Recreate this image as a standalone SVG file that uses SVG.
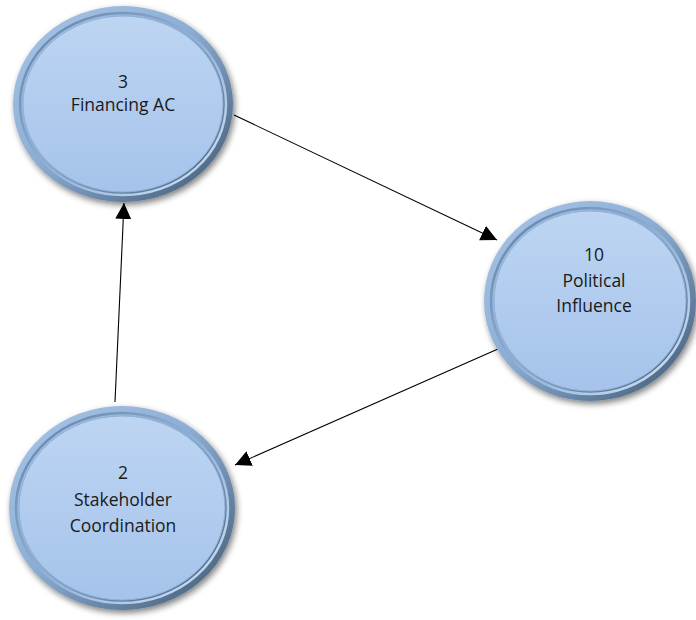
<svg xmlns="http://www.w3.org/2000/svg" width="696" height="620" viewBox="0 0 696 620">
  <defs>
    <style>
      .label { font-family: "Open Sans", "Liberation Sans", sans-serif; font-size: 17.5px; fill: #1a1a1a; text-anchor: middle; }
      .rim { fill: url(#rimGrad); filter: url(#shadow); }
      .rimInner { fill: none; stroke: url(#rimInnerGrad); stroke-width: 2.5; }
      .face { fill: url(#faceGrad); stroke: #8fb0d6; stroke-width: 1; }
      .edge { stroke: #000; stroke-width: 1.1; marker-end: url(#arrow); }
    </style>
    <linearGradient id="rimGrad" x1="0" y1="0" x2="1" y2="1">
      <stop offset="0" stop-color="#a9c6e8"/>
      <stop offset="0.45" stop-color="#8daed4"/>
      <stop offset="1" stop-color="#3d5670"/>
    </linearGradient>
    <linearGradient id="rimInnerGrad" x1="0" y1="0" x2="1" y2="1">
      <stop offset="0" stop-color="#5f7fa6"/>
      <stop offset="0.6" stop-color="#9cbbe0"/>
      <stop offset="1" stop-color="#d6e6f8"/>
    </linearGradient>
    <linearGradient id="faceGrad" x1="0" y1="0" x2="0" y2="1">
      <stop offset="0" stop-color="#bdd5f2"/>
      <stop offset="1" stop-color="#a5c3eb"/>
    </linearGradient>
    <filter id="shadow" x="-20%" y="-20%" width="140%" height="140%">
      <feGaussianBlur in="SourceAlpha" stdDeviation="3"/>
      <feOffset dx="2" dy="3" result="b"/>
      <feComponentTransfer><feFuncA type="linear" slope="0.5"/></feComponentTransfer>
      <feMerge><feMergeNode/><feMergeNode in="SourceGraphic"/></feMerge>
    </filter>
    <marker id="arrow" viewBox="0 0 10 10" refX="10" refY="5" markerWidth="16" markerHeight="16" markerUnits="userSpaceOnUse" orient="auto">
      <path d="M0,0 L10,5 L0,10 z" fill="#000"/>
    </marker>
  </defs>

  <rect width="696" height="620" fill="#fff"/>

  <!-- connectors -->
  <g id="connectors">
    <line class="edge" x1="115" y1="402" x2="124" y2="203"/>
    <line class="edge" x1="234" y1="115" x2="497" y2="240"/>
    <line class="edge" x1="507" y1="345" x2="235" y2="465"/>
  </g>

  <!-- node 3: Financing AC -->
  <g id="node-financing">
    <ellipse class="rim" cx="123" cy="104" rx="110" ry="98"/>
    <ellipse class="rimInner" cx="123" cy="104" rx="103" ry="91"/>
    <ellipse class="face" cx="123" cy="104" rx="100" ry="88"/>
    <text class="label" x="123" y="88">3</text>
    <text class="label" x="123" y="111">Financing AC</text>
  </g>

  <!-- node 10: Political Influence -->
  <g id="node-political">
    <ellipse class="rim" cx="590" cy="301" rx="106" ry="100"/>
    <ellipse class="rimInner" cx="590" cy="301" rx="99" ry="93"/>
    <ellipse class="face" cx="590" cy="301" rx="96" ry="90"/>
    <text class="label" x="594" y="261">10</text>
    <text class="label" x="594" y="287">Political</text>
    <text class="label" x="594" y="312">Influence</text>
  </g>

  <!-- node 2: Stakeholder Coordination -->
  <g id="node-stakeholder">
    <ellipse class="rim" cx="122" cy="508" rx="113" ry="102"/>
    <ellipse class="rimInner" cx="122" cy="508" rx="106" ry="95"/>
    <ellipse class="face" cx="122" cy="508" rx="103" ry="92"/>
    <text class="label" x="123" y="479">2</text>
    <text class="label" x="123" y="506">Stakeholder</text>
    <text class="label" x="123" y="532">Coordination</text>
  </g>
</svg>
